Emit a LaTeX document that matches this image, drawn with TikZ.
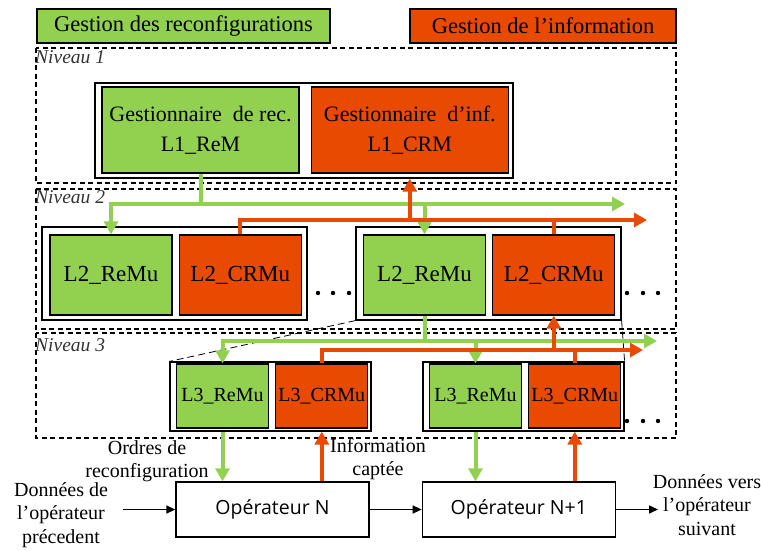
\documentclass[tikz,border=0pt]{standalone}
\usepackage{fontspec}
\setmainfont{Liberation Serif}
\newfontfamily\opfont{Open Sans}
\usetikzlibrary{arrows.meta}
\usetikzlibrary{positioning}
\definecolor{mgreen}{RGB}{146, 208, 80}
\definecolor{morange}{RGB}{232, 74, 2}
\tikzset{rebox/.style = {draw, line width = 1.3, fill = mgreen, inner sep = 0, align = center}}
\tikzset{crbox/.style = {rebox, fill = morange}}
\tikzset{lone/.style = {minimum width = 197, minimum height = 86, font = \fontsize{22}{30}\selectfont}}
\tikzset{ltwo/.style = {minimum width = 122, minimum height = 80, font = \fontsize{23}{26}\selectfont}}
\tikzset{lthree/.style = {minimum width = 92, minimum height = 64, font = \fontsize{20}{23}\selectfont}}
\tikzset{grp/.style = {draw, line width = 1.2, inner sep = 0}}
\tikzset{hdr/.style = {draw, line width = 2.5, inner sep = 0, minimum height = 34, font = \fontsize{22.5}{24}\selectfont}}
\tikzset{niv/.style = {draw, line width = 1.3, dash pattern = on 5pt off 3.5pt}}
\tikzset{nivlbl/.style = {anchor = west, inner sep = 0, text = black!80, font = \itshape\fontsize{19.5}{20}\selectfont}}
\tikzset{opbox/.style = {draw, line width = 1.3, minimum width = 193, minimum height = 55, font = \fontsize{19.5}{24}\selectfont\opfont}}
\tikzset{lbl/.style = {align = center, inner sep = 0, font = \fontsize{20}{23.5}\selectfont}}
\tikzset{gline/.style = {mgreen, line width = 4}}
\tikzset{oline/.style = {morange, line width = 4}}
\tikzset{fat/.style = {-{Triangle[length=13pt, width=14pt]}}}
\tikzset{fatboth/.style = {{Triangle[length=13pt, width=14pt]}-{Triangle[length=13pt, width=14pt]}}}
\tikzset{dline/.style = {line width = 1.5, -{Triangle[length=9pt, width=8pt]}}}
\tikzset{zline/.style = {line width = 0.8, dash pattern = on 7pt off 4pt}}

\begin{document}
\begin{tikzpicture}[x=1pt, y=-1pt]
    \useasboundingbox (0, 0) rectangle (761, 550);
    \node [hdr, fill = mgreen, minimum width = 293] (hdrRe) at (183.5, 26) {Gestion des reconfigurations};
    \node [hdr, fill = morange, minimum width = 266] (hdrInf) at (543, 26) {Gestion de l’information};

    \draw [niv] (36, 48) rectangle (676, 183);
    \draw [niv] (36, 189) rectangle (676, 329);
    \draw [niv] (36, 333) rectangle (676, 438);
    \node [nivlbl] (niv1) at (35, 57) {Niveau 1};
    \node [nivlbl] (niv2) at (35, 197) {Niveau 2};
    \node [nivlbl] (niv3) at (35, 345) {Niveau 3};

    \node [grp, minimum width = 418, minimum height = 95] (G1) at (304, 130.5) {};
    \node [rebox, lone] (L1ReM) at (200.5, 130) {Gestionnaire\ \ de rec.\\L1\_ReM};
    \node [crbox, lone, right = 11pt of L1ReM] (L1CRM) {Gestionnaire\ \ d’inf.\\L1\_CRM};

    \node [grp, minimum width = 265, minimum height = 93] (G2a) at (174.5, 273.5) {};
    \node [rebox, ltwo] (L2aRe) at (111, 275) {L2\_ReMu};
    \node [crbox, ltwo, right = 6pt of L2aRe] (L2aCR) {L2\_CRMu};
    \node [grp, minimum width = 265, minimum height = 93] (G2b) at (488.5, 273.5) {};
    \node [rebox, ltwo] (L2bRe) at (424.5, 275) {L2\_ReMu};
    \node [crbox, ltwo, right = 6pt of L2bRe] (L2bCR) {L2\_CRMu};

    \node [grp, minimum width = 201, minimum height = 69] (G3a) at (270.5, 396.5) {};
    \node [rebox, lthree] (L3aRe) at (222.5, 396) {L3\_ReMu};
    \node [crbox, lthree, right = 6pt of L3aRe] (L3aCR) {L3\_CRMu};
    \node [grp, minimum width = 201, minimum height = 69] (G3b) at (523.5, 396.5) {};
    \node [rebox, lthree] (L3bRe) at (475.5, 396) {L3\_ReMu};
    \node [crbox, lthree, right = 6pt of L3bRe] (L3bCR) {L3\_CRMu};

    \node [opbox] (OpN) at (272.5, 509.5) {Opérateur N};
    \node [opbox, right = 52pt of OpN] (OpN1) {Opérateur N+1};

    \foreach \x/\y in {318/293, 333/293, 349/293, 627/293, 643/293, 658/293, 627/421, 643/421, 658/421} {
      \fill (\x, \y) circle (2.2pt);
    }

    \draw [zline] (G2b.south west) -- (G3a.north west);
    \draw [zline] (G2b.south east) -- (G3b.north east);

    \coordinate (busG2) at (0, 204);
    \coordinate (busO2) at (0, 220);
    \coordinate (endG2) at (625, 204);
    \coordinate (endO2) at (647, 220);
    \draw [gline] (L1ReM.south) -- (L1ReM.south |- busG2);
    \draw [gline, fatboth] (endG2) -- (L2aRe.north |- busG2) -- (L2aRe.north);
    \draw [gline, fat] (L2bRe.north |- busG2) -- (L2bRe.north);
    \draw [oline, fat] (L2aCR.north) -- (L2aCR.north |- busO2) -- (endO2);
    \draw [oline] (L2bCR.north) -- (L2bCR.north |- busO2);
    \draw [oline, fat] (L1CRM.south |- busO2) -- (G1.south -| L1CRM.south);

    \coordinate (busG3) at (0, 341);
    \coordinate (busO3) at (0, 350);
    \coordinate (endG3) at (657, 341);
    \coordinate (endO3) at (643, 350);
    \draw [gline] (L2bRe.south) -- (L2bRe.south |- busG3);
    \draw [gline, fatboth] (endG3) -- (L3aRe.north |- busG3) -- (L3aRe.north);
    \draw [gline, fat] (L3bRe.north |- busG3) -- (L3bRe.north);
    \draw [oline, fat] (L3aCR.north) -- (L3aCR.north |- busO3) -- (endO3);
    \draw [oline] (L3bCR.north) -- (L3bCR.north |- busO3);
    \draw [oline, fat] (L2bCR.south |- busO3) -- (L2bCR.south);

    \draw [gline, fat] (G3a.south -| L3aRe.south) -- (OpN.north -| L3aRe.south);
    \draw [oline, fat] (OpN.north -| L3aCR.south) -- (G3a.south -| L3aCR.south);
    \draw [gline, fat] (G3b.south -| L3bRe.south) -- (OpN1.north -| L3bRe.south);
    \draw [oline, fat] (OpN1.north -| L3bCR.south) -- (G3b.south -| L3bCR.south);

    \coordinate (inN) at (123, 509.5);
    \coordinate (outN1) at (658, 509.5);
    \draw [dline] (inN) -- (OpN.west);
    \draw [dline] (OpN.east) -- (OpN1.west);
    \draw [dline] (OpN1.east) -- (outN1);

    \node [lbl] (ordres) at (147, 461) {Ordres de\\reconfiguration};
    \node [lbl] (info) at (378, 459) {Information\\captée};
    \node [lbl] (donIn) at (61, 515) {Données de\\l’opérateur\\précedent};
    \node [lbl] (donOut) at (707, 505) {Données vers\\l’opérateur\\suivant};
  \end{tikzpicture}
\end{document}
